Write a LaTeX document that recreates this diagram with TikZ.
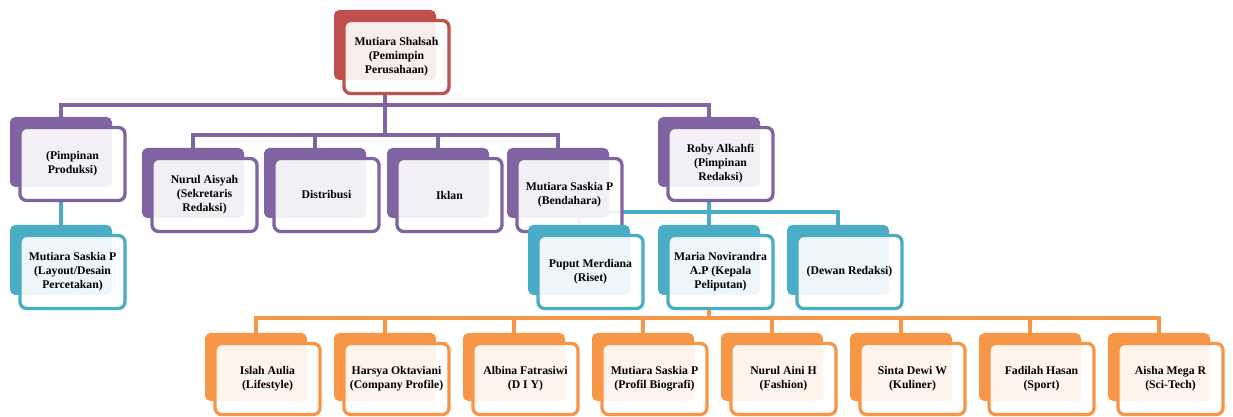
\documentclass[tikz,border=0pt]{standalone}
\usepackage{fontspec}
\setmainfont{Liberation Serif}
\pgfdeclarelayer{canvas}
\pgfdeclarelayer{background}
\pgfsetlayers{canvas,background,main}
\definecolor{cpur}{HTML}{8064A2}
\definecolor{cteal}{HTML}{4BACC6}
\definecolor{corg}{HTML}{F79646}
\definecolor{cred}{HTML}{C0504D}
\tikzset{
  backbox/.style={rectangle, rounded corners=4pt, minimum width=76.5pt, minimum height=52.5pt, inner sep=0pt, outer sep=0pt},
  frontbox/.style={rectangle, rounded corners=5pt, line width=2.5pt, fill=white, fill opacity=0.9, text opacity=1,
     minimum width=78.75pt, minimum height=54.75pt, inner sep=0pt, outer sep=0pt, align=center,
     font=\bfseries\fontsize{8.8}{10.5}\selectfont},
  backboxS/.style={backbox, minimum height=51pt},
  frontboxS/.style={frontbox, minimum height=53.25pt},
  conn/.style={line width=2.7pt}
}
% #1 name, #2 colour, #3 x0, #4 y0, #5 text
\newcommand\orgbox[5]{%
  \node[backbox, fill=#2] (#1-b) at (#3+51,#4+35) {};
  \node[frontbox, draw=#2] (#1) at (#3+62.5,#4+47) {#5};
}
\newcommand\orgboxS[5]{%
  \node[backboxS, fill=#2] (#1-b) at (#3+51,#4+34) {};
  \node[frontboxS, draw=#2] (#1) at (#3+62.5,#4+46) {#5};
}
\begin{document}
\begin{tikzpicture}[x=0.75pt,y=-0.75pt]
\useasboundingbox (0,0) rectangle (1233,417);
\begin{pgfonlayer}{canvas}
\fill[white] (0,0) rectangle (1233,417);
\end{pgfonlayer}

% level 0
\orgbox{top}{cred}{334}{10}{Mutiara Shalsah\\(Pemimpin\\Perusahaan)}
% level 1
\orgbox{pp}{cpur}{10}{117}{(Pimpinan\\Produksi)}
\orgbox{roby}{cpur}{658}{117}{Roby Alkahfi\\(Pimpinan\\Redaksi)}
\orgbox{nurul}{cpur}{142}{148}{Nurul Aisyah\\(Sekretaris\\Redaksi)}
\orgbox{dist}{cpur}{264}{148}{Distribusi}
\orgbox{iklan}{cpur}{387}{148}{Iklan}
\orgbox{bend}{cpur}{507}{148}{Mutiara Saskia P\\(Bendahara)}
% level 2
\orgbox{layout}{cteal}{10}{225}{Mutiara Saskia P\\(Layout/Desain\\Percetakan)}
\orgbox{puput}{cteal}{528}{225}{Puput Merdiana\\(Riset)}
\orgbox{maria}{cteal}{658}{225}{Maria Novirandra\\A.P (Kepala\\Peliputan)}
\orgbox{dewan}{cteal}{787}{225}{(Dewan Redaksi)}
% level 3
\orgboxS{b1}{corg}{205}{333}{Islah Aulia\\(Lifestyle)}
\orgboxS{b2}{corg}{334}{333}{Harsya Oktaviani\\(Company Profile)}
\orgboxS{b3}{corg}{463}{333}{Albina Fatrasiwi\\(D I Y)}
\orgboxS{b4}{corg}{592}{333}{Mutiara Saskia P\\(Profil Biografi)}
\orgboxS{b5}{corg}{721}{333}{Nurul Aini H\\(Fashion)}
\orgboxS{b6}{corg}{850}{333}{Sinta Dewi W\\(Kuliner)}
\orgboxS{b7}{corg}{979}{333}{Fadilah Hasan\\(Sport)}
\orgboxS{b8}{corg}{1108}{333}{Aisha Mega R\\(Sci-Tech)}

\begin{pgfonlayer}{background}
  % purple connectors
  \coordinate (topdrop) at (top-b.south |- top.south);
  \foreach \n in {pp,roby}
    \draw[conn, cpur] (topdrop) -- (topdrop |- 0,105) -| (\n-b.north);
  \foreach \n in {nurul,dist,iklan,bend}
    \draw[conn, cpur] (topdrop) -- (topdrop |- 0,135) -| (\n-b.north);
  % teal connectors
  \draw[conn, cteal] (pp-b.south |- pp.south) -- (layout-b.north);
  \coordinate (robydrop) at (roby-b.south |- roby.south);
  \foreach \n in {puput,maria,dewan}
    \draw[conn, cteal] (robydrop) -- (robydrop |- 0,212) -| (\n-b.north);
  % orange connectors
  \coordinate (mariadrop) at (maria-b.south |- maria.south);
  \foreach \n in {b1,b2,b3,b4,b5,b6,b7,b8}
    \draw[conn, corg] (mariadrop) -- (mariadrop |- 0,318) -| (\n-b.north);
\end{pgfonlayer}
\end{tikzpicture}
\end{document}
